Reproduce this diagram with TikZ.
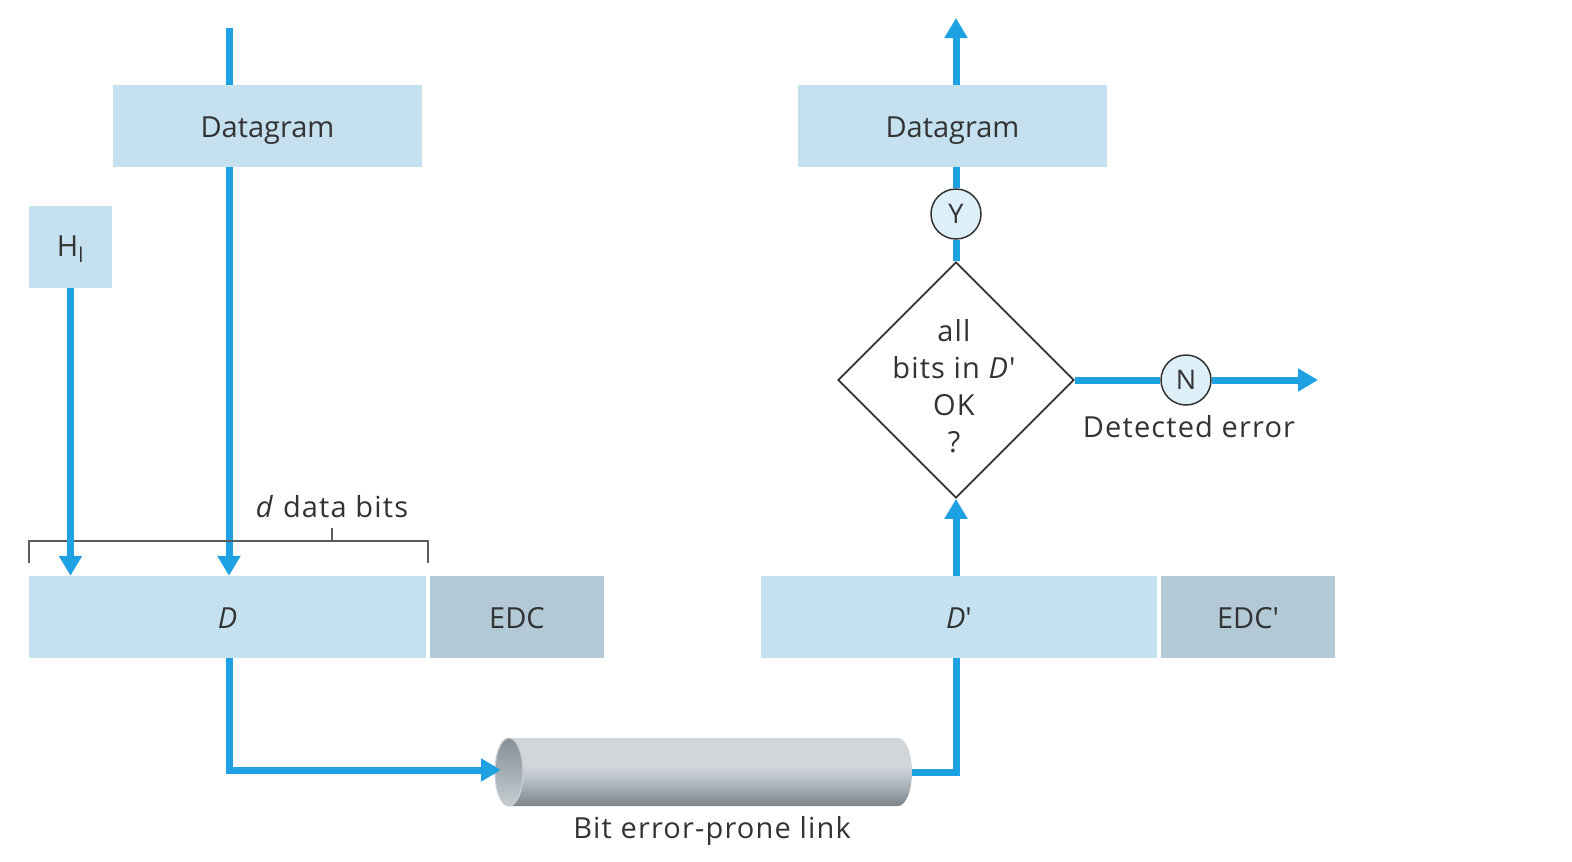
\documentclass[tikz,border=0pt]{standalone}
\usepackage{fontspec}
\setmainfont{Open Sans}
\usetikzlibrary{shapes.geometric,arrows.meta,backgrounds,calc}
\definecolor{boxblue}{HTML}{C5E1EF}
\definecolor{edcblue}{HTML}{B3CAD6}
\definecolor{flow}{HTML}{1DA1E2}
\definecolor{txt}{HTML}{333333}
\definecolor{circfill}{HTML}{DDEFF9}
\definecolor{cyltop}{HTML}{D0D6DA}
\definecolor{cylmid}{HTML}{BCC3C8}
\definecolor{cylbot}{HTML}{7C858C}
\definecolor{facetop}{HTML}{858F96}
\definecolor{facebot}{HTML}{C6CDD1}
\definecolor{facerim}{HTML}{C9D0D4}
\pgfdeclareverticalshading{cylbody}{100bp}{color(0bp)=(cylbot); color(25bp)=(cylbot); color(46bp)=(cylmid); color(54bp)=(cyltop); color(100bp)=(cyltop)}
\pgfdeclareverticalshading{cylface}{100bp}{color(0bp)=(facebot); color(25bp)=(facebot); color(75bp)=(facetop); color(100bp)=(facetop)}
\tikzset{
  lbl/.style={text=txt,font=\fontsize{29}{35}\selectfont\addfontfeature{LetterSpace=4},inner sep=0pt},
  boxtext/.style={inner sep=0pt,text=txt,font=\fontsize{29}{35}\selectfont,text height=22pt,text depth=0pt},
  pbox/.style={boxtext,fill=boxblue},
  ebox/.style={boxtext,fill=edcblue},
  yn/.style={circle,draw=txt,line width=1.5pt,fill=circfill,minimum size=50pt,inner sep=0pt,text=txt,font=\fontsize{27}{33}\selectfont},
  flowline/.style={draw=flow,line width=7pt},
  flowarrow/.style={flowline,-{Triangle[length=20pt,width=22pt]}},
  bracket/.style={draw=txt!80,line width=1.5pt},
}
\begin{document}
\begin{tikzpicture}[x=1pt,y=-1pt]
\useasboundingbox (0,0) rectangle (1572,862);
% boxes
\node[pbox,minimum width=309pt,minimum height=82pt] (dg1) at (267.5,126) {Datagram};
\node[pbox,minimum width=309pt,minimum height=82pt] (dg2) at (952.5,126) {Datagram};
\node[pbox,minimum width=83pt,minimum height=82pt,text depth=4pt] (hl) at (70.5,247) {H\textsubscript{l}};
\node[pbox,minimum width=397pt,minimum height=82pt] (D) at (227.5,617) {\itshape D};
\node[ebox,minimum width=174pt,minimum height=82pt] (edc) at (517,617) {EDC};
\node[pbox,minimum width=396pt,minimum height=82pt] (Dp) at (959,617) {\textit{D}\textquotesingle};
\node[ebox,minimum width=174pt,minimum height=82pt] (edcp) at (1248,617) {EDC\textquotesingle};
% decision
\node[diamond,draw=txt,line width=1.8pt,fill=white,minimum width=236pt,minimum height=236pt,inner sep=0pt] (dia) at (956,380) {};
\node[lbl,align=center,font=\fontsize{29}{37}\selectfont\addfontfeature{LetterSpace=4}] (diatext) at (954,386) {all\\bits in \textit{D}\textquotesingle\\OK\\?};
\node[yn] (Y) at (956,214) {Y};
\node[yn] (N) at (1186,380) {N};
\node[lbl,anchor=base] (det) at (1189,437.5) {Detected error};
% cylinder
\coordinate (cylL) at (509,772);
\coordinate (cylR) at (912,772);
\path[shading=cylbody]
  (509,738) -- (898,738) arc (-90:90:14 and 34) -- (509,806) arc (90:270:14 and 34) -- cycle;
\path[shading=cylface, draw=facerim, line width=1.2pt]
  (cylL) ellipse (14 and 34);
\node[lbl,anchor=base] (cyltext) at (712,838) {Bit error-prone link};
% bracket and label
\coordinate (bl) at (29,541);
\coordinate (br) at (428,541);
\coordinate (bm) at (332,541);
\draw[bracket] ($(bl)+(0,22)$) -- (bl) -- (br) -- ($(br)+(0,22)$);
\draw[bracket] (bm) -- ($(bm)+(0,-13)$);
\node[lbl,anchor=base] (dbits) at (332,517) {\textit{d} data bits};
% connectors
\coordinate (src) at (229,28);
\coordinate (dst) at (956,18);
\coordinate (nend) at (1318,380);
\coordinate (corner1) at (229,770);
\coordinate (cylin) at (501,770);
\coordinate (corner2) at (956,772);
\begin{scope}[on background layer]
\draw[flowarrow] (src) -- (src |- D.north);
\end{scope}
\draw[flowarrow] (hl.south) -- (hl.south |- D.north);
\draw[flowarrow] (src |- D.south) -- (corner1) -- (cylin);
\draw[flowline] (cylR) -- (corner2) -- (corner2 |- Dp.south);
\draw[flowarrow] (corner2 |- Dp.north) -- (dia.south);
\draw[flowline] (dia.north) -- (Y);
\draw[flowline] (Y) -- (Y |- dg2.south);
\draw[flowarrow] (Y |- dg2.north) -- (dst);
\draw[flowline] (dia.east) -- (N);
\draw[flowarrow] (N) -- (nend);
\end{tikzpicture}
\end{document}
